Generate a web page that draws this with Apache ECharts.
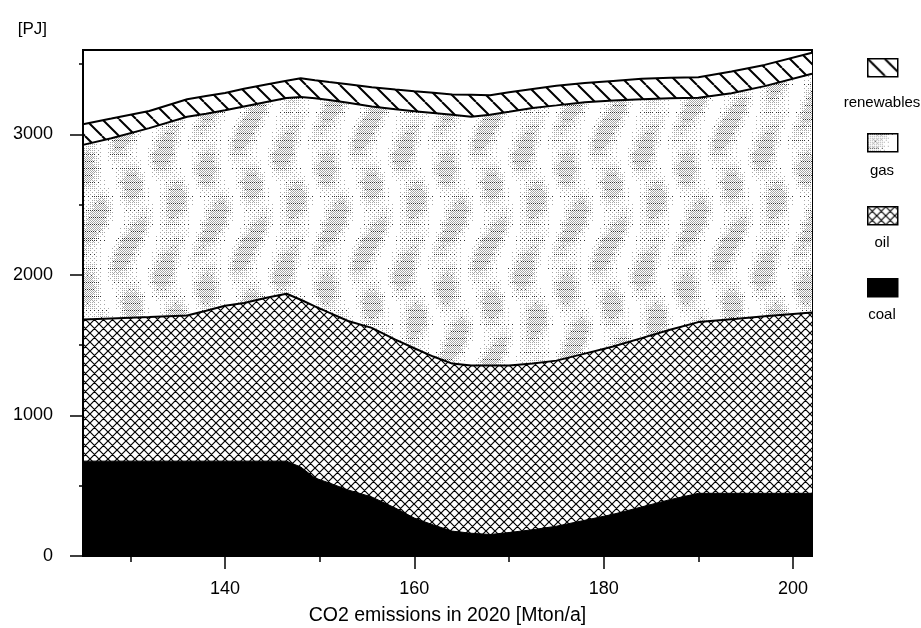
<!DOCTYPE html>
<html><head><meta charset="utf-8">
<script src="https://cdn.jsdelivr.net/npm/echarts@6/dist/echarts.min.js"></script>
<style>html,body{margin:0;padding:0;background:#fff}#c{width:921px;height:628px}</style>
</head><body><div id="c"></div>
<script>
// ---- data (PJ per layer, x = CO2 emissions in 2020 [Mton/a]) ----
const emissions = [125,128,132,136,138,140,142,144.5,146.5,148,149.5,151,153,155.5,158,160,162,164,166,168,170,172.5,175,178,181,184,187,190,193.5,197,202];
const coal = [675,675,675,675,675,675,675,675,675,633,555,520,470,420,341,270,221,177,162,153,167,187,212,254,297,349,401,446,446,446,446];
const oil = [1007,1015,1025,1036,1070,1105,1125,1164,1191,1190,1221,1211,1202,1203,1199,1208,1198,1192,1194,1203,1189,1182,1178,1186,1194,1201,1209,1218,1239,1259,1287];
const gas = [1243,1282,1344,1414,1401,1391,1398,1393,1393,1442,1480,1513,1552,1575,1638,1687,1733,1770,1769,1784,1805,1819,1816,1788,1749,1700,1646,1596,1608,1638,1698];
const renewables = [147,140,122,125,126,123,126,124,122,134,129,128,132,137,141,142,144,145,156,138,139,135,139,137,140,145,146,146,154,151,149];
const seriesNames = ['coal','oil','gas','renewables'];
const legendOrder = ['renewables','gas','oil','coal'];
const xLabelTicks = [140,160,180,200];
const xMinorTicks = [130,150,170,190];
const yLabelTicks = [0,1000,2000,3000];
const yMinorTicks = [500,1500,2500,3500];

const values = {coal, oil, gas, renewables};
const FONT = '"Liberation Sans", Arial, Helvetica, sans-serif';

// cumulative tops of each layer (stacked from the bottom)
const cumulative = {};
seriesNames.forEach((name,i)=>{
  cumulative[name] = values[name].map((v,j)=> v + (i>0 ? cumulative[seriesNames[i-1]][j] : 0));
});

// ---- fill patterns ----
function mk(w,h){const c=document.createElement('canvas');c.width=w;c.height=h;const g=c.getContext('2d');g.fillStyle='#fff';g.fillRect(0,0,w,h);return [c,g];}
function hatch(){const s=17;const [c,g]=mk(s,s);g.strokeStyle='#000';g.lineWidth=2;g.beginPath();
  for(let k=-1;k<=1;k++){g.moveTo(k*s,0);g.lineTo(k*s+s,s);}g.stroke();return c;}
function cross(){const s=9;const [c,g]=mk(s,s);g.strokeStyle='#000';g.lineWidth=1.2;g.beginPath();
  for(let k=-1;k<=1;k++){g.moveTo(k*s,0);g.lineTo(k*s+s,s);g.moveTo(k*s+s,0);g.lineTo(k*s,s);}g.stroke();return c;}
// mottled stipple texture with soft vertical streaks (ordered dither, deterministic)
function stipple(scale){const W=120,H=240;const [c,g]=mk(W,H);
  const B=[[0,8,2,10],[12,4,14,6],[3,11,1,9],[15,7,13,5]];
  for(let y=0;y<H;y++)for(let x=0;x<W;x++){
    if((x+y)%2)continue;
    const a=0.5+0.5*Math.sin(2*Math.PI*x/40+1.1*Math.sin(2*Math.PI*y/120));
    const b=0.6+0.4*Math.sin(2*Math.PI*y/60+2*Math.PI*x/60);
    const d=a*b;
    const t=(B[y%4][x%4]+0.5)/16;
    if(d*scale>t){g.fillStyle=((x*7+y*3)%7===0)?'#333':'#a8a8a8';g.fillRect(x,y,1,1);}
  }
  return c;}
const fills = {
  coal:'#000',
  oil:{image:cross(),repeat:'repeat'},
  gas:{image:stipple(0.75),repeat:'repeat'},
  renewables:{image:hatch(),repeat:'repeat'}
};
const legendFills = Object.assign({}, fills, {gas:{image:stipple(0.35),repeat:'repeat'}});

// ---- legend (graphic) ----
const graphics=[];
legendOrder.forEach((name,i)=>{
  const top=[58,133,206,278][i];
  const ly=[103,171,243,315][i];
  graphics.push({type:'rect',left:867,top:top,shape:{width:30,height:18},
    style:{fill:legendFills[name],stroke:'#000',lineWidth:1.5},z:100});
  graphics.push({type:'text',x:882,y:ly,
    style:{text:name,fill:'#000',font:'15px '+FONT,align:'center',verticalAlign:'middle'},z:100});
});

const chart=echarts.init(document.getElementById('c'),null,{renderer:'canvas'});
const axisCommon={type:'value',splitLine:{show:false},z:20};
chart.setOption({
  animation:false,
  backgroundColor:'#fff',
  textStyle:{fontFamily:FONT},
  grid:{left:83,right:109,top:50,bottom:72,show:true,borderColor:'#000',borderWidth:2,backgroundColor:'transparent',containLabel:false,outerBoundsMode:'none'},
  xAxis:[
    Object.assign({},axisCommon,{min:125,max:202,position:'bottom',
      name:'CO2 emissions in 2020 [Mton/a]',nameLocation:'middle',nameGap:50,
      nameTextStyle:{fontSize:19.5,color:'#000',fontFamily:FONT},
      axisLine:{show:true,lineStyle:{color:'#000',width:2}},
      axisTick:{show:true,length:13,lineStyle:{color:'#000',width:1.5},customValues:xLabelTicks},
      axisLabel:{show:true,margin:24,fontSize:18,color:'#000',fontFamily:FONT,customValues:xLabelTicks,formatter:v=>String(v)}}),
    Object.assign({},axisCommon,{min:125,max:202,position:'bottom',
      axisLine:{show:false},
      axisTick:{show:true,length:6,lineStyle:{color:'#000',width:1.5},customValues:xMinorTicks},
      axisLabel:{show:false}})
  ],
  yAxis:[
    Object.assign({},axisCommon,{min:0,max:3600,position:'left',
      name:'[PJ]',nameLocation:'end',nameGap:21,
      nameTextStyle:{fontSize:17,color:'#000',align:'right',verticalAlign:'middle',padding:[0,36,0,0],fontFamily:FONT},
      axisLine:{show:true,lineStyle:{color:'#000',width:2}},
      axisTick:{show:true,length:13,lineStyle:{color:'#000',width:1.5},customValues:yLabelTicks},
      axisLabel:{show:true,margin:30,fontSize:18,color:'#000',fontFamily:FONT,customValues:yLabelTicks,formatter:v=>String(v)}}),
    Object.assign({},axisCommon,{min:0,max:3600,position:'left',
      axisLine:{show:false},
      axisTick:{show:true,length:4,lineStyle:{color:'#000',width:1.5},customValues:yMinorTicks},
      axisLabel:{show:false}})
  ],
  // each layer is drawn from the axis up to its cumulative top; lower layers paint over upper ones
  series:seriesNames.map((name,i)=>({
    name:name,type:'line',xAxisIndex:0,yAxisIndex:0,
    data:emissions.map((x,j)=>[x,cumulative[name][j]]),
    symbol:'none',showSymbol:false,
    lineStyle:{color:'#000',width:name==='coal'?1:2},
    areaStyle:{color:fills[name],opacity:1,origin:'start'},
    emphasis:{disabled:true},
    z:10-i
  })),
  graphic:graphics
});
</script></body></html>
